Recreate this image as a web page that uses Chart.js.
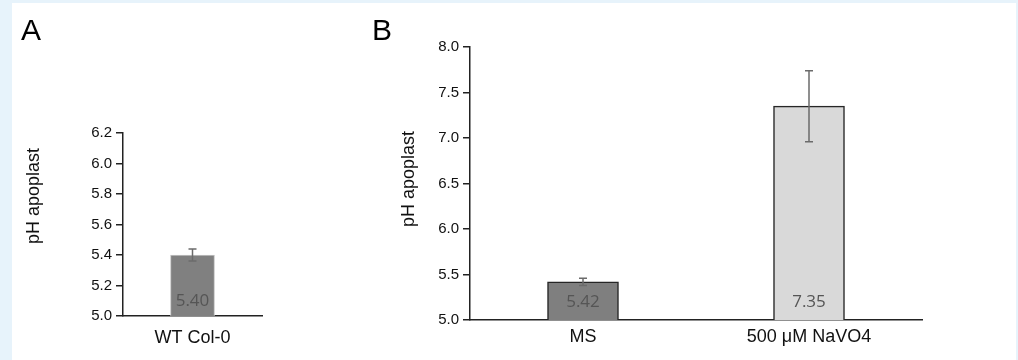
<!DOCTYPE html>
<html>
<head>
<meta charset="utf-8">
<script src="https://cdn.jsdelivr.net/npm/chart.js@4/dist/chart.umd.min.js"></script>
<style>
  html, body { margin: 0; padding: 0; }
  body { width: 1018px; height: 360px; background: #e7f3fb; position: relative; overflow: hidden; font-family: "Liberation Sans", Arial, sans-serif; }
  .panel { position: absolute; left: 12px; top: 3px; width: 1004px; height: 357px; background: #fff; }
  .box { position: absolute; top: 0; height: 360px; }
  .letter { position: absolute; font-size: 30px; line-height: 30px; color: #000; }
  .ytitle { position: absolute; font-size: 18px; line-height: 20px; color: #111; white-space: nowrap; transform: translate(-50%, -50%) rotate(-90deg); }
</style>
</head>
<body>
<div class="panel"></div>
<div class="box" style="left:0;width:340px"><canvas id="chartA"></canvas></div>
<div class="box" style="left:340px;width:678px"><canvas id="chartB"></canvas></div>
<div class="letter" style="left:21px;top:15px">A</div>
<div class="letter" style="left:372px;top:15px">B</div>
<div class="ytitle" style="left:33px;top:196px">pH apoplast</div>
<div class="ytitle" style="left:408px;top:179px">pH apoplast</div>
<script>
// panel A
const labelsA = ['WT Col-0'];
const valuesA = [5.40];
const errorsA = [0.04];
const ticksA = { min: 5.0, max: 6.2, step: 0.2 };

// panel B
const labelsB = ['MS', '500 μM NaVO4'];
const valuesB = [5.42, 7.35];
const errorsB = [0.04, 0.39];
const ticksB = { min: 5.0, max: 8.0, step: 0.5 };

// error bars + value labels inside the bars
const barExtras = {
  id: 'barExtras',
  afterDatasetsDraw(chart, args, opts) {
    const ctx = chart.ctx;
    const y = chart.scales.y;
    const meta = chart.getDatasetMeta(0);
    const ds = chart.data.datasets[0];
    meta.data.forEach((bar, i) => {
      const v = ds.data[i];
      const e = opts.errors[i];
      const top = y.getPixelForValue(v + e);
      const bot = y.getPixelForValue(v - e);
      ctx.save();
      ctx.strokeStyle = '#6b6b6b';
      ctx.lineWidth = 1.5;
      ctx.beginPath();
      ctx.moveTo(bar.x, top); ctx.lineTo(bar.x, bot);
      ctx.moveTo(bar.x - 4, top); ctx.lineTo(bar.x + 4, top);
      ctx.moveTo(bar.x - 4, bot); ctx.lineTo(bar.x + 4, bot);
      ctx.stroke();
      ctx.fillStyle = '#555';
      ctx.font = '17px "Open Sans", "DejaVu Sans", sans-serif';
      ctx.textAlign = 'center';
      ctx.textBaseline = 'middle';
      ctx.fillText(v.toFixed(2), bar.x, chart.chartArea.bottom - opts.labelOffset);
      ctx.restore();
    });
  }
};

function makeChart(id, labels, values, errors, t, colors, borders, borderWidth, thickness, pad, xHeight, yWidth, labelOffset, xPad) {
  return new Chart(document.getElementById(id), {
    type: 'bar',
    data: {
      labels: labels,
      datasets: [{
        data: values,
        backgroundColor: colors,
        borderColor: borders,
        borderWidth: borderWidth,
        barThickness: thickness,
      }]
    },
    options: {
      responsive: true,
      maintainAspectRatio: false,
      animation: false,
      layout: { padding: pad },
      plugins: {
        legend: { display: false },
        tooltip: { enabled: false },
        barExtras: { errors: errors, labelOffset: labelOffset }
      },
      scales: {
        x: {
          afterFit: (s) => { s.height = xHeight; },
          grid: { display: false },
          border: { display: true, color: '#222', width: 1.5 },
          ticks: { color: '#111', padding: xPad, font: { size: 18, family: '"Liberation Sans", Arial, sans-serif' } }
        },
        y: {
          min: t.min,
          max: t.max,
          afterFit: (s) => { s.width = yWidth; },
          afterBuildTicks: (s) => {
            const arr = [];
            for (let k = 0; t.min + k * t.step <= t.max + 1e-9; k++) arr.push({ value: +(t.min + k * t.step).toFixed(2) });
            s.ticks = arr;
          },
          grid: { drawOnChartArea: false, drawTicks: true, tickLength: 7, color: '#222', lineWidth: 1.5 },
          border: { display: true, color: '#222', width: 1.5 },
          ticks: {
            color: '#111', padding: 4,
            font: { size: 15, family: '"Liberation Sans", Arial, sans-serif' },
            callback: (v) => Number(v).toFixed(1)
          }
        }
      }
    },
    plugins: [barExtras]
  });
}

makeChart('chartA', labelsA, valuesA, errorsA, ticksA,
  ['#808080'], ['#c4c4c4'], 1, 44,
  { top: 133, right: 78, bottom: 0, left: 0 }, 44, 123, 15, 3);

makeChart('chartB', labelsB, valuesB, errorsB, ticksB,
  ['#7f7f7f', '#d9d9d9'], ['#262626', '#262626'], 1.5, 71,
  { top: 47, right: 96, bottom: 0, left: 0 }, 40, 130, 18, -2);
</script>
</body>
</html>
